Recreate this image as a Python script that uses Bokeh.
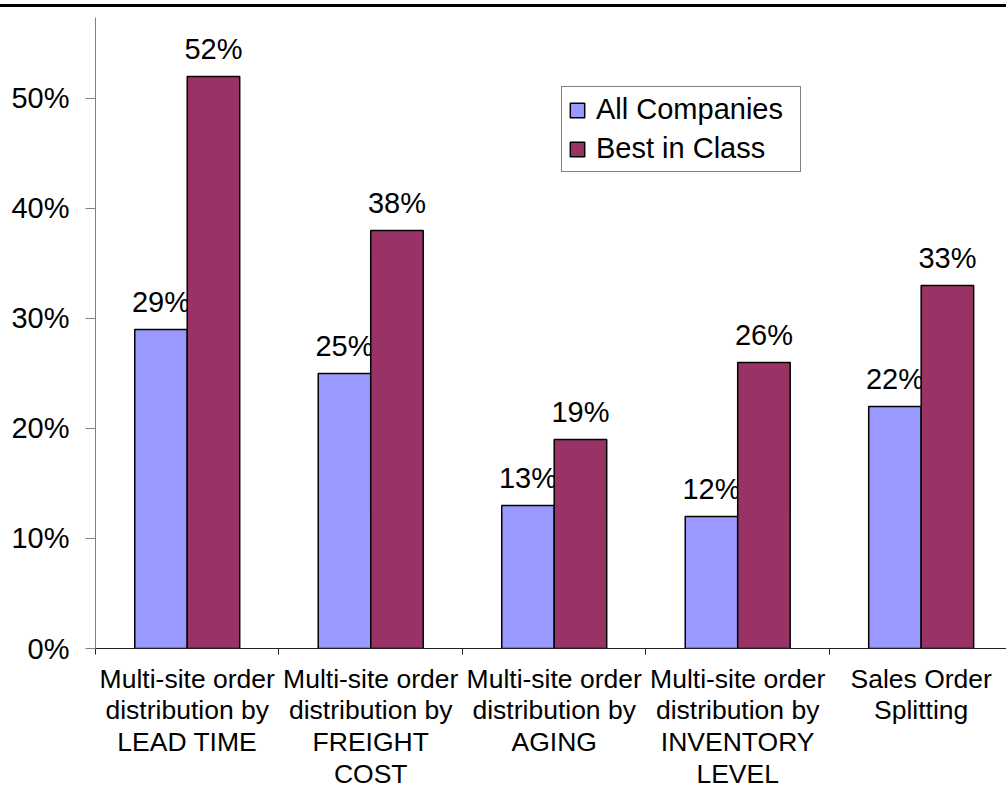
from bokeh.plotting import figure
from bokeh.models import (ColumnDataSource, FixedTicker, NumeralTickFormatter,
                          Range1d, Legend, LegendItem, Div)
from bokeh.layouts import column
from bokeh.embed import file_html
from bokeh.resources import INLINE
from bokeh.core.properties import value

categories = [
    "Multi-site order\ndistribution by\nLEAD TIME",
    "Multi-site order\ndistribution by\nFREIGHT\nCOST",
    "Multi-site order\ndistribution by\nAGING",
    "Multi-site order\ndistribution by\nINVENTORY\nLEVEL",
    "Sales Order\nSplitting",
]
all_companies = [29, 25, 13, 12, 22]
best_in_class = [52, 38, 19, 26, 33]
series_names = ["All Companies", "Best in Class"]
series_colors = ["#9999FF", "#993366"]

FONT = "Liberation Sans"
centers = [i + 0.5 for i in range(len(categories))]
bar_w = 0.286

p = figure(width=1006, height=785, output_backend="svg", toolbar_location=None,
           x_range=Range1d(0, 4.965), y_range=Range1d(0, 0.5736),
           min_border_left=95, min_border_right=0, min_border_top=10,
           min_border_bottom=144)
p.outline_line_color = None
p.xgrid.visible = False
p.ygrid.visible = False

renderers = []
for k, (vals, color) in enumerate(zip([all_companies, best_in_class], series_colors)):
    offset = (-0.5 + k) * bar_w
    src = ColumnDataSource(dict(
        x=[c + offset for c in centers],
        top=[v / 100 for v in vals],
        label=[f"{v}%" for v in vals],
    ))
    r = p.vbar(x="x", top="top", width=bar_w, source=src, fill_color=color,
               line_color="black", line_width=1.5)
    renderers.append(r)
    p.text(x="x", y="top", text="label", source=src, text_align="center",
           text_baseline="alphabetic", y_offset=-27, text_font=value(FONT),
           text_font_size="29px", text_color="black")

# y axis: percentages
yax = p.yaxis[0]
yax.ticker = FixedTicker(ticks=[0, 0.1, 0.2, 0.3, 0.4, 0.5])
yax.formatter = NumeralTickFormatter(format="0%")
yax.major_label_text_font = FONT
yax.major_label_text_font_size = "29px"
yax.major_label_text_color = "black"
yax.major_label_standoff = 16
yax.major_tick_in = 0
yax.major_tick_out = 10
yax.minor_tick_line_color = None
yax.axis_line_color = "#808080"
yax.major_tick_line_color = "#808080"

# x axis: labels at category centres, tick marks at category boundaries
xax = p.xaxis[0]
xax.ticker = FixedTicker(ticks=centers, minor_ticks=list(range(len(categories) + 1)))
xax.major_label_overrides = {c: lab for c, lab in zip(centers, categories)}
xax.major_label_text_font = FONT
xax.major_label_text_font_size = "26.5px"
xax.major_label_text_color = "black"
xax.major_label_text_line_height = 1.06
xax.major_label_standoff = 9
xax.major_tick_in = 0
xax.major_tick_out = 0
xax.minor_tick_in = 0
xax.minor_tick_out = 6
xax.axis_line_color = "#202020"
xax.minor_tick_line_color = "#202020"

legend = Legend(items=[LegendItem(label=n, renderers=[r]) for n, r in zip(series_names, renderers)],
                location=(466, 476))
legend.label_text_font = FONT
legend.label_text_font_size = "29px"
legend.label_text_color = "black"
legend.glyph_width = 18
legend.glyph_height = 18
legend.label_height = 30
legend.label_width = 198
legend.label_standoff = 10
legend.spacing = 6
legend.padding = 6
legend.margin = 0
legend.border_line_color = "black"
legend.border_line_width = 1
legend.background_fill_alpha = 1
p.add_layout(legend)

top_rule = Div(text="", width=1006, height=3, margin=(4, 0, 0, 0),
               styles={"background-color": "black"})

layout = column(top_rule, p, spacing=0)
open("out.html", "w").write(file_html(layout, INLINE))
